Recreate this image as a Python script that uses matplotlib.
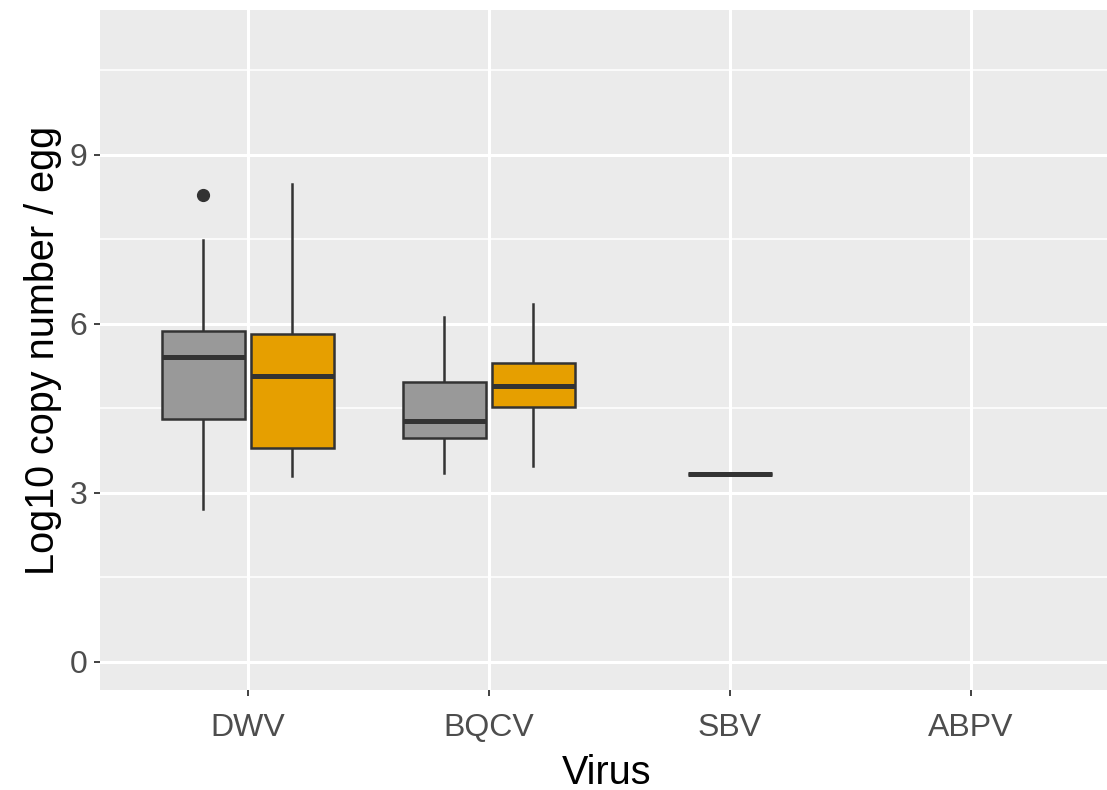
import matplotlib.pyplot as plt
import matplotlib.ticker as ticker

# box stats (log10 copy number / egg)
viruses = ['DWV', 'BQCV', 'SBV', 'ABPV']
grey_pos = [1, 2]
grey_low = [2.72, 3.36]
grey_q1 = [4.31, 3.98]
grey_med = [5.41, 4.28]
grey_q3 = [5.88, 4.97]
grey_high = [7.49, 6.12]
grey_fliers = [[8.29], []]

orange_pos = [1, 2]
orange_low = [3.30, 3.48]
orange_q1 = [3.80, 4.53]
orange_med = [5.08, 4.90]
orange_q3 = [5.82, 5.31]
orange_high = [8.49, 6.36]
orange_fliers = [[], []]

sbv_pos = [3]
sbv_value = [3.34]

grey_col = '#999999'
orange_col = '#E69F00'
edge = '#333333'

plt.rcParams['font.family'] = ['Liberation Sans', 'DejaVu Sans']

fig = plt.figure(figsize=(11.07, 7.9), dpi=100)
ax = fig.add_axes([100 / 1107, 100 / 790, 1 - 100 / 1107, 680 / 790])
ax.set_facecolor('#EBEBEB')


def make_stats(low, q1, med, q3, high, fliers):
    out = []
    for i in range(len(low)):
        out.append({'whislo': low[i], 'q1': q1[i], 'med': med[i], 'q3': q3[i],
                    'whishi': high[i], 'fliers': fliers[i]})
    return out


def draw(stats, pos, colour, width):
    bp = ax.bxp(stats, positions=pos, widths=width, patch_artist=True,
                showcaps=False, manage_ticks=False,
                boxprops=dict(facecolor=colour, edgecolor=edge, linewidth=1.8),
                medianprops=dict(color=edge, linewidth=3.6, solid_capstyle='butt'),
                whiskerprops=dict(color=edge, linewidth=1.8),
                flierprops=dict(marker='o', markerfacecolor=edge, markeredgecolor=edge,
                                markersize=8.5))
    for b in bp['boxes']:
        b.set_zorder(3)
    for m in bp['medians']:
        m.set_zorder(4)
    return bp


draw(make_stats(grey_low, grey_q1, grey_med, grey_q3, grey_high, grey_fliers),
     [p - 0.186 for p in grey_pos], grey_col, 0.345)
draw(make_stats(orange_low, orange_q1, orange_med, orange_q3, orange_high, orange_fliers),
     [p + 0.184 for p in orange_pos], orange_col, 0.345)
draw(make_stats(sbv_value, sbv_value, sbv_value, sbv_value, sbv_value, [[]]),
     sbv_pos, grey_col, 0.35)

ax.set_xlim(0.386, 4.564)
ax.set_ylim(-0.5, 11.57)
ax.set_xticks(range(1, len(viruses) + 1))
ax.set_xticklabels(viruses)
ax.yaxis.set_major_locator(ticker.MultipleLocator(3))
ax.yaxis.set_minor_locator(ticker.MultipleLocator(1.5))

ax.grid(which='major', color='white', linewidth=2.2)
ax.grid(which='minor', axis='y', color='white', linewidth=1.1)
ax.set_axisbelow(True)
for s in ax.spines.values():
    s.set_visible(False)

ax.tick_params(which='major', length=4, width=1.3, color=edge,
               labelsize=23, labelcolor='#4D4D4D')
ax.tick_params(axis='x', pad=12.5)
ax.tick_params(axis='y', pad=5)
ax.tick_params(which='minor', length=0)

ax.set_xlabel('Virus', fontsize=28.5, color='black')
ax.set_ylabel('Log10 copy number / egg', fontsize=28.5, color='black')
ax.xaxis.set_label_coords((607 - 100) / 1007, -0.094)
ax.yaxis.set_label_coords(-0.038, 0.5)

fig.savefig('out.png', dpi=100)
